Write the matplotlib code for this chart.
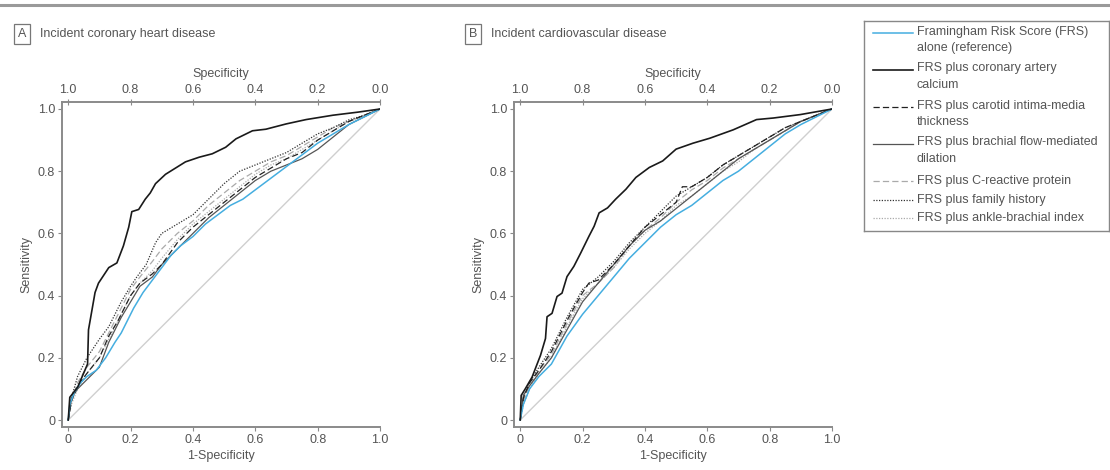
import matplotlib
matplotlib.use("Agg")
import matplotlib.pyplot as plt

plt.rcParams["font.family"] = ["Liberation Sans", "DejaVu Sans"]
plt.rcParams["font.size"] = 9

# =====================================
# DATA
# =====================================

series_names = [
    "Framingham Risk Score (FRS)\nalone (reference)",
    "FRS plus coronary artery\ncalcium",
    "FRS plus carotid intima-media\nthickness",
    "FRS plus brachial flow-mediated\ndilation",
    "FRS plus C-reactive protein",
    "FRS plus family history",
    "FRS plus ankle-brachial index",
]

panel_titles = ["Incident coronary heart disease", "Incident cardiovascular disease"]
panel_letters = ["A", "B"]

# Panel A - coronary heart disease
a_frs_x = [0, 0.005, 0.02, 0.04, 0.06, 0.09, 0.12, 0.15, 0.17, 0.19, 0.21, 0.24, 0.27, 0.30, 0.33,
           0.36, 0.40, 0.44, 0.48, 0.52, 0.56, 0.60, 0.64, 0.68, 0.72, 0.76, 0.80, 0.85, 0.90, 0.95, 1.0]
a_frs_y = [0, 0.05, 0.09, 0.12, 0.14, 0.16, 0.20, 0.25, 0.28, 0.32, 0.36, 0.41, 0.45, 0.49, 0.53,
           0.56, 0.59, 0.63, 0.66, 0.69, 0.71, 0.74, 0.77, 0.80, 0.83, 0.86, 0.89, 0.92, 0.95, 0.975, 1.0]

a_cac_x = [0, 0.005, 0.03, 0.062, 0.065, 0.086, 0.097, 0.13, 0.156, 0.177, 0.194, 0.204, 0.226, 0.247,
           0.263, 0.28, 0.312, 0.344, 0.376, 0.42, 0.462, 0.505, 0.538, 0.591, 0.634, 0.699, 0.763,
           0.849, 0.93, 1.0]
a_cac_y = [0, 0.073, 0.105, 0.18, 0.29, 0.41, 0.44, 0.49, 0.505, 0.56, 0.62, 0.67, 0.677, 0.71,
           0.73, 0.76, 0.79, 0.81, 0.83, 0.845, 0.856, 0.877, 0.904, 0.93, 0.935, 0.952, 0.966,
           0.98, 0.99, 1.0]

a_cimt_x = [0, 0.01, 0.03, 0.06, 0.10, 0.13, 0.16, 0.20, 0.23, 0.27, 0.30, 0.35, 0.40, 0.45, 0.50,
            0.55, 0.60, 0.65, 0.70, 0.75, 0.80, 0.85, 0.90, 0.95, 1.0]
a_cimt_y = [0, 0.06, 0.11, 0.15, 0.20, 0.27, 0.32, 0.40, 0.44, 0.47, 0.50, 0.57, 0.62, 0.66, 0.70,
            0.74, 0.78, 0.81, 0.84, 0.86, 0.90, 0.93, 0.96, 0.98, 1.0]

a_fmd_x = [0, 0.01, 0.03, 0.06, 0.10, 0.13, 0.17, 0.20, 0.23, 0.27, 0.30, 0.35, 0.40, 0.45, 0.50,
           0.55, 0.60, 0.65, 0.70, 0.75, 0.80, 0.85, 0.90, 0.95, 1.0]
a_fmd_y = [0, 0.07, 0.10, 0.13, 0.17, 0.25, 0.33, 0.38, 0.43, 0.46, 0.50, 0.55, 0.60, 0.65, 0.69,
           0.73, 0.77, 0.80, 0.82, 0.84, 0.87, 0.91, 0.95, 0.975, 1.0]

a_crp_x = [0, 0.01, 0.03, 0.06, 0.10, 0.13, 0.17, 0.20, 0.23, 0.27, 0.30, 0.35, 0.40, 0.45, 0.50,
           0.55, 0.60, 0.65, 0.70, 0.75, 0.80, 0.85, 0.90, 0.95, 1.0]
a_crp_y = [0, 0.06, 0.12, 0.17, 0.22, 0.28, 0.36, 0.42, 0.46, 0.51, 0.55, 0.60, 0.64, 0.69, 0.73,
           0.77, 0.80, 0.83, 0.85, 0.88, 0.91, 0.94, 0.96, 0.98, 1.0]

a_fh_x = [0, 0.01, 0.03, 0.06, 0.10, 0.13, 0.17, 0.20, 0.22, 0.25, 0.28, 0.30, 0.35, 0.40, 0.45,
          0.50, 0.55, 0.60, 0.65, 0.70, 0.75, 0.80, 0.85, 0.90, 0.95, 1.0]
a_fh_y = [0, 0.07, 0.14, 0.20, 0.26, 0.30, 0.38, 0.43, 0.46, 0.50, 0.57, 0.60, 0.63, 0.66, 0.71,
          0.76, 0.80, 0.82, 0.84, 0.86, 0.89, 0.92, 0.94, 0.965, 0.98, 1.0]

a_abi_x = [0, 0.01, 0.03, 0.06, 0.10, 0.13, 0.17, 0.20, 0.23, 0.27, 0.30, 0.35, 0.40, 0.45, 0.50,
           0.55, 0.60, 0.65, 0.70, 0.75, 0.80, 0.85, 0.90, 0.95, 1.0]
a_abi_y = [0, 0.05, 0.10, 0.15, 0.20, 0.26, 0.34, 0.40, 0.44, 0.48, 0.52, 0.58, 0.63, 0.67, 0.71,
           0.75, 0.79, 0.82, 0.84, 0.87, 0.90, 0.93, 0.96, 0.98, 1.0]

# Panel B - cardiovascular disease
b_frs_x = [0, 0.01, 0.03, 0.06, 0.10, 0.15, 0.20, 0.25, 0.30, 0.35, 0.40, 0.45, 0.50, 0.55, 0.60,
           0.65, 0.70, 0.75, 0.80, 0.85, 0.90, 0.95, 1.0]
b_frs_y = [0, 0.05, 0.10, 0.14, 0.18, 0.27, 0.34, 0.40, 0.46, 0.52, 0.57, 0.62, 0.66, 0.69, 0.73,
           0.77, 0.80, 0.84, 0.88, 0.92, 0.95, 0.975, 1.0]

b_cac_x = [0, 0.003, 0.016, 0.038, 0.065, 0.081, 0.086, 0.102, 0.118, 0.134, 0.15, 0.172, 0.194,
           0.22, 0.237, 0.253, 0.28, 0.306, 0.339, 0.371, 0.414, 0.457, 0.5, 0.554, 0.608, 0.683,
           0.758, 0.812, 0.898, 1.0]
b_cac_y = [0, 0.079, 0.10, 0.138, 0.208, 0.262, 0.332, 0.343, 0.397, 0.408, 0.461, 0.494, 0.537,
           0.59, 0.623, 0.666, 0.682, 0.71, 0.742, 0.78, 0.812, 0.833, 0.871, 0.89, 0.906, 0.933,
           0.966, 0.971, 0.982, 1.0]

b_cimt_x = [0, 0.01, 0.03, 0.06, 0.10, 0.15, 0.20, 0.22, 0.25, 0.30, 0.35, 0.40, 0.45, 0.50, 0.52,
            0.55, 0.60, 0.65, 0.70, 0.75, 0.80, 0.85, 0.90, 0.95, 1.0]
b_cimt_y = [0, 0.07, 0.12, 0.16, 0.22, 0.32, 0.41, 0.44, 0.45, 0.50, 0.56, 0.62, 0.66, 0.70, 0.75,
            0.75, 0.78, 0.82, 0.85, 0.88, 0.91, 0.94, 0.96, 0.98, 1.0]

b_fmd_x = [0, 0.01, 0.03, 0.06, 0.10, 0.15, 0.20, 0.25, 0.30, 0.35, 0.40, 0.45, 0.50, 0.55, 0.60,
           0.65, 0.70, 0.75, 0.80, 0.85, 0.90, 0.95, 1.0]
b_fmd_y = [0, 0.08, 0.11, 0.15, 0.20, 0.29, 0.38, 0.44, 0.50, 0.56, 0.61, 0.64, 0.68, 0.72, 0.76,
           0.80, 0.84, 0.87, 0.90, 0.93, 0.96, 0.98, 1.0]

b_crp_x = [0, 0.01, 0.03, 0.06, 0.10, 0.15, 0.20, 0.25, 0.30, 0.35, 0.40, 0.45, 0.50, 0.55, 0.60,
           0.65, 0.70, 0.75, 0.80, 0.85, 0.90, 0.95, 1.0]
b_crp_y = [0, 0.06, 0.11, 0.16, 0.21, 0.31, 0.40, 0.44, 0.49, 0.56, 0.61, 0.65, 0.70, 0.74, 0.77,
           0.81, 0.84, 0.87, 0.90, 0.93, 0.96, 0.98, 1.0]

b_fh_x = [0, 0.01, 0.03, 0.06, 0.10, 0.15, 0.20, 0.25, 0.30, 0.35, 0.40, 0.45, 0.50, 0.55, 0.60,
          0.65, 0.70, 0.75, 0.80, 0.85, 0.90, 0.95, 1.0]
b_fh_y = [0, 0.07, 0.12, 0.17, 0.23, 0.33, 0.42, 0.46, 0.51, 0.57, 0.62, 0.67, 0.72, 0.75, 0.78,
          0.82, 0.85, 0.88, 0.91, 0.94, 0.96, 0.98, 1.0]

b_abi_x = [0, 0.01, 0.03, 0.06, 0.10, 0.15, 0.20, 0.25, 0.30, 0.35, 0.40, 0.45, 0.50, 0.55, 0.60,
           0.65, 0.70, 0.75, 0.80, 0.85, 0.90, 0.95, 1.0]
b_abi_y = [0, 0.05, 0.10, 0.15, 0.20, 0.30, 0.39, 0.44, 0.49, 0.55, 0.60, 0.64, 0.69, 0.72, 0.76,
           0.80, 0.83, 0.87, 0.90, 0.93, 0.96, 0.98, 1.0]

panel_a = [(a_frs_x, a_frs_y), (a_cac_x, a_cac_y), (a_cimt_x, a_cimt_y), (a_fmd_x, a_fmd_y),
           (a_crp_x, a_crp_y), (a_fh_x, a_fh_y), (a_abi_x, a_abi_y)]
panel_b = [(b_frs_x, b_frs_y), (b_cac_x, b_cac_y), (b_cimt_x, b_cimt_y), (b_fmd_x, b_fmd_y),
           (b_crp_x, b_crp_y), (b_fh_x, b_fh_y), (b_abi_x, b_abi_y)]

tick_values = [0, 0.2, 0.4, 0.6, 0.8, 1.0]
bottom_labels = ["0", "0.2", "0.4", "0.6", "0.8", "1.0"]
left_labels = ["0", "0.2", "0.4", "0.6", "0.8", "1.0"]
top_labels = ["1.0", "0.8", "0.6", "0.4", "0.2", "0.0"]

# =====================================
# STYLES
# =====================================

styles = [
    dict(color="#45aee0", lw=1.1, ls="-"),
    dict(color="#1a1a1a", lw=1.2, ls="-"),
    dict(color="#222222", lw=0.9, ls=(0, (5, 2.5))),
    dict(color="#555555", lw=0.9, ls="-"),
    dict(color="#aaaaaa", lw=0.9, ls=(0, (5, 2.5))),
    dict(color="#333333", lw=0.9, ls=(0, (1, 1.2))),
    dict(color="#aaaaaa", lw=0.9, ls=(0, (1, 1.2))),
]
# draw order: reference on top of the cluster
draw_order = [6, 4, 5, 3, 2, 0, 1]

text_color = "#555555"
spine_color = "#8a8a8a"
W, H = 1110, 470

fig = plt.figure(figsize=(11.1, 4.7), dpi=100)

# top rule
fig.add_artist(plt.Line2D([0, 1], [1 - 5 / H, 1 - 5 / H], color="#9a9a9a", lw=2.2,
                          transform=fig.transFigure))

axes_left = [62, 514]
for k, (panel, left) in enumerate(zip([panel_a, panel_b], axes_left)):
    ax = fig.add_axes([left / W, (H - 427) / H, 318 / W, 325 / H])
    ax.set_xlim(-0.02, 1.0)
    ax.set_ylim(-0.0225, 1.0225)

    ax.plot([0, 1], [0, 1], color="#cfcfcf", lw=1.0)
    for i in draw_order:
        xs, ys = panel[i]
        ax.plot(xs, ys, **styles[i])

    for s in ["right", "top"]:
        ax.spines[s].set_visible(False)
    for s in ["left", "bottom"]:
        ax.spines[s].set_color(spine_color)
        ax.spines[s].set_linewidth(1.4)

    ax.set_xticks(tick_values)
    ax.set_xticklabels(bottom_labels)
    ax.set_yticks(tick_values)
    ax.set_yticklabels(left_labels)
    ax.tick_params(direction="out", length=3, width=0.8, color=spine_color,
                   labelcolor=text_color, labelsize=9, pad=2)
    ax.set_xlabel("1-Specificity", color=text_color, fontsize=9, labelpad=3)
    ax.set_ylabel("Sensitivity", color=text_color, fontsize=9, labelpad=4)

    top = ax.secondary_xaxis("top", functions=(lambda v: 1 - v, lambda v: 1 - v))
    top.set_xticks([1 - v for v in tick_values])
    top.set_xticklabels(top_labels)
    top.spines["top"].set_color(spine_color)
    top.spines["top"].set_linewidth(1.4)
    top.tick_params(direction="inout", length=4, width=0.8, color=spine_color,
                    labelcolor=text_color, labelsize=9, pad=2)
    top.set_xlabel("Specificity", color=text_color, fontsize=9, labelpad=5)

    # panel label
    box_x = [22, 473][k]
    fig.text(box_x / W, 1 - 34 / H, panel_letters[k], ha="center", va="center",
             color=text_color, fontsize=9,
             bbox=dict(boxstyle="square,pad=0.3", fc="white", ec="#777777", lw=0.9))
    fig.text((box_x + 18) / W, 1 - 34 / H, panel_titles[k], ha="left", va="center",
             color=text_color, fontsize=9)

# =====================================
# LEGEND (drawn by hand to keep handle on first text line)
# =====================================

lax = fig.add_axes([864 / W, (H - 231) / H, 245 / W, 210 / H])
lax.set_xlim(864, 1109)
lax.set_ylim(231, 21)
lax.set_xticks([])
lax.set_yticks([])
for s in lax.spines.values():
    s.set_color("#888888")
    s.set_linewidth(1.0)

line_y = 33
for i, name in enumerate(series_names):
    lax.plot([873, 913], [line_y, line_y], **styles[i])
    lax.text(917, line_y, name, ha="left", va="center" if "\n" not in name else "top",
             color=text_color, fontsize=9, linespacing=1.45)
    n_lines = name.count("\n") + 1
    line_y += 18.5 * n_lines

# fix vertical alignment of two-line entries: first line centred on handle
for t in lax.texts:
    if "\n" in t.get_text():
        x, y = t.get_position()
        t.set_position((x, y - 7.5))

fig.savefig("out.png", dpi=100)
